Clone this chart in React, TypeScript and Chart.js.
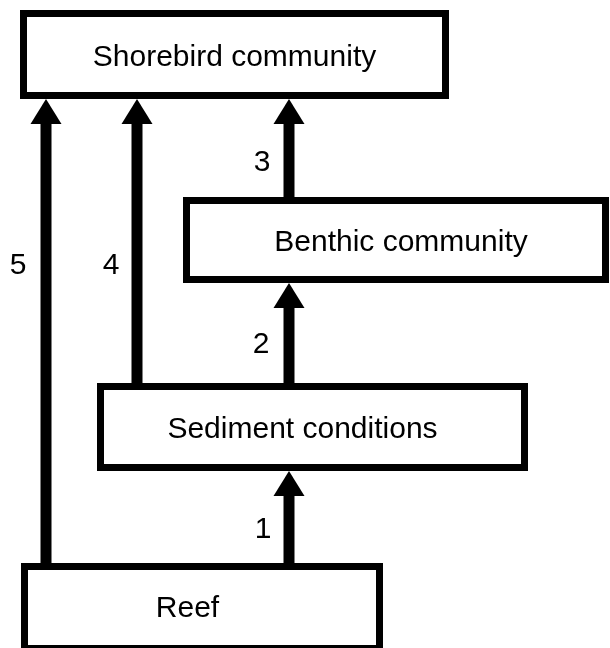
import React, { useEffect, useRef } from 'react';
import { Chart, registerables } from 'chart.js';

Chart.register(...registerables);

// Boxes (outer edges, in picture units)
const boxLabels = ['Shorebird community', 'Benthic community', 'Sediment conditions', 'Reef'];
const boxLeft = [20, 183, 97, 21];
const boxRight = [449, 609, 528, 383];
const boxTop = [10, 197, 383, 563];
const boxBottom = [99, 283, 471, 652];
const textX = [234.5, 401, 302.5, 187.5];
const textY = [55, 240, 427, 606];

// Arrows (tail -> tip, vertical)
const arrowX = [289, 289, 289, 137, 46];
const arrowTail = [563, 383, 197, 383, 563];
const arrowTip = [471, 283, 99, 99, 99];
const arrowLabels = ['1', '2', '3', '4', '5'];
const arrowLabelX = [263, 261, 262, 111, 18];
const arrowLabelY = [527, 342, 160, 263, 263];

const BORDER = 7;
const SHAFT = 11;
const HEAD_W = 31;
const HEAD_L = 25;
const FONT = '30px "Liberation Sans", Arial, sans-serif';

export default function App() {
  const ref = useRef<HTMLCanvasElement>(null);

  useEffect(() => {
    document.body.style.margin = '0';
    document.body.style.background = '#ffffff';
    const canvas = ref.current;
    if (!canvas) return;

    const h = BORDER / 2;
    const datasets: any[] = [];
    boxLabels.forEach((_, i) => {
      const l = boxLeft[i] + h, r = boxRight[i] - h, t = boxTop[i] + h, b = boxBottom[i] - h;
      datasets.push({
        data: [
          { x: l, y: t }, { x: r, y: t }, { x: r, y: b }, { x: l, y: b }, { x: l, y: t },
        ],
        borderColor: '#000000',
        borderWidth: BORDER,
        borderJoinStyle: 'miter',
        borderCapStyle: 'square',
        pointRadius: 0,
        showLine: true,
        fill: false,
        tension: 0,
        clip: false,
      });
    });
    arrowX.forEach((x, i) => {
      datasets.push({
        data: [{ x, y: arrowTail[i] }, { x, y: arrowTip[i] + HEAD_L }],
        borderColor: '#000000',
        borderWidth: SHAFT,
        borderCapStyle: 'butt',
        pointRadius: 0,
        showLine: true,
        fill: false,
        clip: false,
      });
    });

    const annot = {
      id: 'diagramAnnot',
      afterDatasetsDraw(chart: any) {
        const { ctx, scales } = chart;
        const px = (v: number) => scales.x.getPixelForValue(v);
        const py = (v: number) => scales.y.getPixelForValue(v);
        ctx.save();
        ctx.fillStyle = '#000000';
        arrowX.forEach((x, i) => {
          ctx.beginPath();
          ctx.moveTo(px(x), py(arrowTip[i]));
          ctx.lineTo(px(x - HEAD_W / 2), py(arrowTip[i] + HEAD_L));
          ctx.lineTo(px(x + HEAD_W / 2), py(arrowTip[i] + HEAD_L));
          ctx.closePath();
          ctx.fill();
        });
        ctx.font = FONT;
        ctx.textAlign = 'center';
        ctx.textBaseline = 'alphabetic';
        const capMid = 30 * 0.358;
        boxLabels.forEach((lab, i) => {
          ctx.fillText(lab, px(textX[i]), py(textY[i]) + capMid);
        });
        arrowLabels.forEach((lab, i) => {
          ctx.fillText(lab, px(arrowLabelX[i]), py(arrowLabelY[i]) + capMid);
        });
        ctx.restore();
      },
    };

    const chart = new Chart(canvas, {
      type: 'scatter',
      data: { datasets },
      options: {
        animation: false,
        responsive: false,
        maintainAspectRatio: false,
        layout: { padding: 0 },
        plugins: { legend: { display: false }, tooltip: { enabled: false } },
        events: [],
        scales: {
          x: { type: 'linear', min: 0, max: 610, display: false },
          y: { type: 'linear', min: 0, max: 648, reverse: true, display: false },
        },
      },
      plugins: [annot],
    });
    return () => chart.destroy();
  }, []);

  return (
    <div style={{ width: 610, height: 648, position: 'relative' }}>
      <canvas ref={ref} width={610} height={648} style={{ display: 'block' }} />
    </div>
  );
}
